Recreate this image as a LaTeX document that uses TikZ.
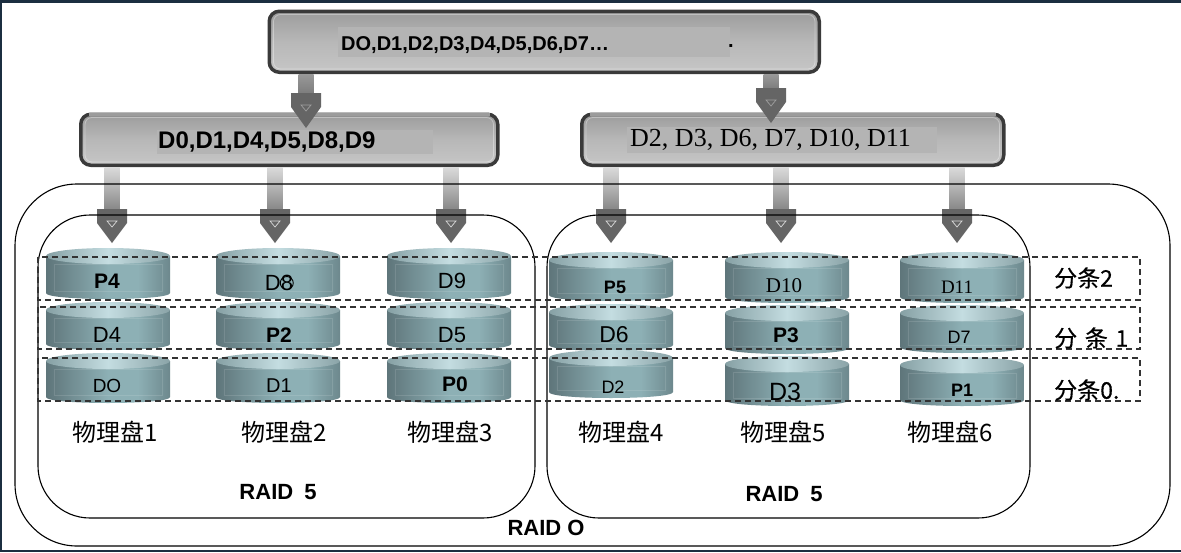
\documentclass[tikz,border=0pt]{standalone}
\usepackage{fontspec}
\setmainfont{Liberation Sans}
\newfontfamily\cjk{Noto Sans CJK SC}
\newfontfamily\cjkm[FakeBold=0.5]{Noto Sans CJK SC}
\newfontfamily\serifl{Liberation Serif}
\usetikzlibrary{calc}
\definecolor{navy}{HTML}{1B2E40}
\definecolor{boxline}{HTML}{3A3A3A}
\definecolor{boxtopline}{HTML}{9C9C9C}
\definecolor{dashc}{HTML}{333333}
\definecolor{headc}{HTML}{656565}
\definecolor{patchc}{HTML}{B4B4B4}
\definecolor{diskdark}{HTML}{55696E}
\definecolor{diskmid}{HTML}{8DB0B5}
\definecolor{diskedge}{HTML}{3F5054}
\definecolor{capl}{HTML}{86A0A4}
\definecolor{capm}{HTML}{C4DDE1}
\definecolor{capr}{HTML}{8AA3A7}
\pgfdeclareverticalshading{boxshade}{100bp}{
  color(0bp)=(white!74!black); color(15bp)=(white!80!black); color(50bp)=(white!72!black);
  color(78bp)=(white!60!black); color(90bp)=(white!66!black); color(100bp)=(white!80!black)}
\pgfdeclarehorizontalshading{diskbody}{100bp}{
  color(0bp)=(diskedge); color(20bp)=(diskdark); color(50bp)=(diskmid); color(62bp)=(diskmid);
  color(85bp)=(diskdark); color(100bp)=(diskedge)}
\tikzset{
  gbox/.style={draw=boxline,line width=3.5pt,rounded corners=10pt,shading=boxshade,inner sep=0pt,anchor=north west},
  patch/.style={fill=patchc,inner sep=0pt,anchor=north west},
  lab/.style={text=black,inner sep=0pt},
  dlab/.style={lab,font=\fontsize{22}{22}\selectfont},
  dbold/.style={lab,font=\fontsize{21}{21}\selectfont\bfseries},
  raid/.style={draw=black,line width=1.1pt,rounded corners=52pt},
  rowbox/.style={draw=dashc,line width=1.2pt,dash pattern=on 6pt off 4pt},
  cjklab/.style={lab,font=\fontsize{24}{24}\cjk},
  striplab/.style={lab,font=\fontsize{23}{23}\cjkm},
  raidlab/.style={lab,font=\fontsize{22}{22}\selectfont\bfseries},
}
% \diskshape{cx}{top}{bottom}
\newcommand{\diskshape}[3]{%
  \pgfmathsetmacro{\xa}{#1-62}\pgfmathsetmacro{\xb}{#1+62}%
  \pgfmathsetmacro{\ya}{#2+8}\pgfmathsetmacro{\yb}{#3-6}\pgfmathsetmacro{\yc}{#3+2}%
  \pgfmathsetmacro{\xi}{#1-54}\pgfmathsetmacro{\xj}{#1+54}%
  \pgfmathsetmacro{\yi}{#2+16}\pgfmathsetmacro{\yj}{#3-8}%
  \shade[shading=diskbody] (\xa,\ya) -- (\xa,\yb) .. controls (\xa,\yc) and (\xb,\yc) .. (\xb,\yb) -- (\xb,\ya) -- cycle;
  \draw[white,opacity=.12,line width=.7pt] (\xi,\yi) rectangle (\xj,\yj);
  \shade[left color=capl,right color=capr,middle color=capm] (#1,\ya) ellipse [x radius=62,y radius=8];
}
% \fatarrow{from node}{tip coordinate}{head length}{shaft top}{shaft bottom}{triangle}
\newcommand{\fatarrow}[6]{%
  \shade[top color=#4,bottom color=#5]
    ($(#1.south -| #2)+(-7.5,0)$) rectangle ($(#2)+(7.5,-#3+2)$);
  \fill[headc] ($(#2)+(-15,-#3)$) -- ($(#2)+(15,-#3)$) -- ($(#2)+(15,-#3+14)$) -- (#2) -- ($(#2)+(-15,-#3+14)$) -- cycle;
  \draw[#6,line width=.7pt] ($(#2)+(-5,-#3+12)$) -- ($(#2)+(5,-#3+12)$) -- ($(#2)+(0,-#3+18)$) -- cycle;
}
% highlights of a box: \boxglass{node}
\newcommand{\boxglass}[1]{%
  \draw[white,opacity=.35,line width=.8pt,rounded corners=7pt]
    ($(#1.north west)+(6,5)$) rectangle ($(#1.south east)+(-6,-5)$);
}
\begin{document}
\begin{tikzpicture}[x=1pt,y=-1pt]
\useasboundingbox (0,0) rectangle (1181,552);
\fill[white] (0,0) rectangle (1181,552);
\fill[navy] (0,0) rectangle (1181,3);
\fill[navy] (0,0) rectangle (2,552);
\fill[navy] (0,549.5) rectangle (1181,552);

% boxes
\node[gbox,minimum width=550pt,minimum height=61pt] (top) at (267.5,9.5) {};
\node[gbox,minimum width=417pt,minimum height=51pt] (midl) at (79,112.5) {};
\node[gbox,minimum width=422pt,minimum height=51pt] (midr) at (580,112.5) {};
\boxglass{top}\boxglass{midl}\boxglass{midr}
\draw[boxtopline,line width=3.5pt] ($(midl.north west)+(10,1.75)$) -- ($(midl.north east)+(-10,1.75)$);
\draw[boxtopline,line width=3.5pt] ($(midr.north west)+(10,1.75)$) -- ($(midr.north east)+(-10,1.75)$);
\node[patch,minimum width=392pt,minimum height=30pt] (ptop) at (338,27) {};
\node[patch,minimum width=276pt,minimum height=24pt] (pmidl) at (157,130) {};
\node[patch,minimum width=310pt,minimum height=26pt] (pmidr) at (627,127) {};

% arrows
\coordinate (t1) at (306,128);
\coordinate (t2) at (771,123);
\fatarrow{top}{t1}{35}{white!60!black}{white!48!black}{white!62!black}
\fatarrow{top}{t2}{35}{white!60!black}{white!48!black}{white!62!black}
\foreach \n/\x/\src in {a1/112/midl,a2/275/midl,a3/451/midl,a4/611/midr,a5/781/midr,a6/957/midr}{
  \coordinate (\n) at (\x,243);
  \fatarrow{\src}{\n}{34}{white!86!black}{white!52!black}{white!85!black}
}

% RAID outlines
\draw[raid,rounded corners=62pt] (15,184) rectangle (1170,546);
\draw[raid] (38,215) rectangle (535,518);
\draw[raid] (547,215) rectangle (1030,518);

% disks
\foreach \cx/\t/\b in {108/248/299,278/248/299,449/248/299,
                       108/302/350,278/302/350,449/302/350,
                       108/353/403,278/353/403,449/353/403,
                       611/252/301,787/252/303,962/252/303,
                       611/304/351,787/305/354,962/305/353,
                       611/350/398,787/356/406,962/357/406}{
  \diskshape{\cx}{\t}{\b}
}

% stripes
\draw[rowbox] (38,257) rectangle (1140,300);
\draw[rowbox] (38,307) rectangle (1140,349);
\draw[rowbox] (38,358) rectangle (1140,401);

% box texts
\node[lab,anchor=west,font=\fontsize{20}{20}\selectfont\bfseries] (ttop) at (341,45) {DO,D1,D2,D3,D4,D5,D6,D7…};
\node[lab,font=\fontsize{20}{20}\selectfont\bfseries] (tdot) at (731,46) {.};
\node[lab,anchor=west,font=\fontsize{24}{24}\selectfont\bfseries] (tmidl) at (158,142) {D0,D1,D4,D5,D8,D9};
\node[lab,anchor=west,font=\fontsize{26}{26}\serifl] (tmidr) at (630,140) {D2, D3, D6, D7, D10, D11};

% disk labels
\node[dbold] (d1) at (107,281) {P4};
\node[dlab]  (d2) at (107,335) {D4};
\node[dlab,font=\fontsize{19}{19}\selectfont] (d3) at (107,386) {DO};
\node[dlab]  (d4) at (279,283) {D8};
\draw[black,line width=.9pt] (d4.east) ++(-6.5,0) circle [radius=6.5];
\node[dbold] (d5) at (279,335) {P2};
\node[dlab,font=\fontsize{20}{20}\selectfont] (d6) at (279,386) {D1};
\node[dlab]  (d7) at (452,281) {D9};
\node[dlab]  (d8) at (452,335) {D5};
\node[dbold] (d9) at (455,384) {P0};
\node[dbold,font=\fontsize{18}{18}\selectfont\bfseries] (d10) at (615,287) {P5};
\node[dlab,font=\fontsize{23}{23}\selectfont]  (d11) at (614,335) {D6};
\node[dlab,font=\fontsize{18}{18}\selectfont]  (d12) at (613,387) {D2};
\node[lab,font=\fontsize{21}{21}\serifl] (d13) at (784,286) {D10};
\node[lab,font=\fontsize{19}{19}\serifl] (d14) at (957,287) {D11};
\node[dbold] (d15) at (786,335) {P3};
\node[dlab,font=\fontsize{18}{18}\selectfont]  (d16) at (959,337) {D7};
\node[dlab,font=\fontsize{25}{25}\selectfont]  (d17) at (785,392) {D3};
\node[dbold,font=\fontsize{18}{18}\selectfont\bfseries] (d18) at (962,390) {P1};

% physical disks
\node[cjklab,anchor=west] (p1) at (72,432) {物理盘1};
\node[cjklab,anchor=west] (p2) at (241,432) {物理盘2};
\node[cjklab,anchor=west] (p3) at (407,432) {物理盘3};
\node[cjklab,anchor=west] (p4) at (578,432) {物理盘4};
\node[cjklab,anchor=west] (p5) at (740,432) {物理盘5};
\node[cjklab,anchor=west] (p6) at (907,432) {物理盘6};

% stripe labels
\node[striplab,anchor=west] (s2) at (1054,278) {分条2};
\node[striplab,anchor=west] (s1) at (1054,338) {分\,\,条\,\,1};
\node[striplab,anchor=west] (s0) at (1054,390) {分条0.};

% RAID labels
\node[raidlab] (r1) at (278,492) {RAID\,\,\,5};
\node[raidlab] (r2) at (784,494) {RAID\,\,\,5};
\node[raidlab] (r0) at (546,528) {RAID O};
\end{tikzpicture}
\end{document}
